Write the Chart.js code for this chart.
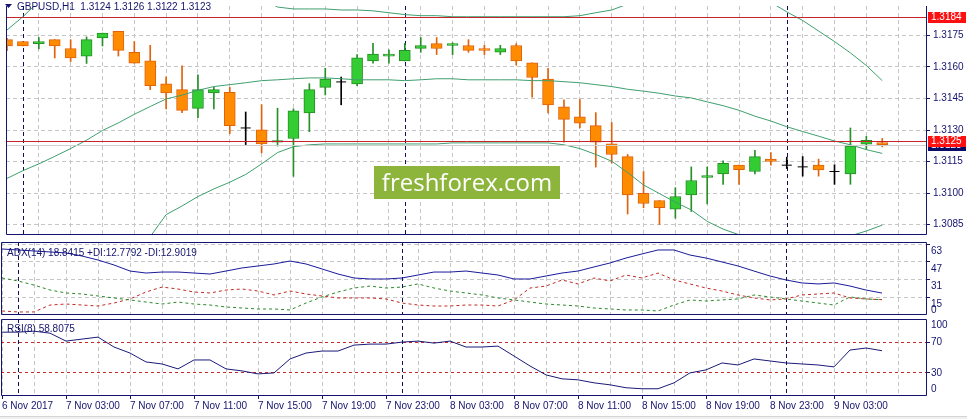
<!DOCTYPE html>
<html>
<head>
<meta charset="utf-8">
<script src="https://cdn.jsdelivr.net/npm/chart.js@4.4.0/dist/chart.umd.min.js"></script>
<style>
  html, body { margin: 0; padding: 0; background: #fff; }
  body { width: 967px; height: 419px; position: relative; overflow: hidden; }
  canvas { position: absolute; left: 0; }
  #foot { position: absolute; left: 0; top: 416px; width: 967px; height: 3px; background: #f0f0f0; border-top: 1px solid #d4d4d4; }
</style>
</head>
<body>
<canvas id="mainChart" width="967" height="241" style="top:0"></canvas>
<canvas id="adxChart" width="967" height="77" style="top:240px"></canvas>
<canvas id="rsiChart" width="967" height="102" style="top:317px"></canvas>
<div id="foot"></div>
<script>
// GBPUSD H1 bars, 6 Nov 23:00 .. 9 Nov 06:00
const open = [1.31730,1.31721,1.31711,1.31730,1.31688,1.31652,1.31738,1.31770,1.31670,1.31629,
  1.31520,1.31492,1.31403,1.31477,1.31480,1.31310,1.31301,1.31242,1.31260,1.31381,
  1.31503,1.31529,1.31520,1.31629,1.31652,1.31629,1.31688,1.31711,1.31702,1.31702,
  1.31688,1.31670,1.31702,1.31620,1.31543,1.31411,1.31363,1.31321,1.31234,1.31174,
  1.30999,1.30965,1.30924,1.30992,1.31075,1.31092,1.31133,1.31103,1.31162,1.31133,
  1.31125,1.31133,1.31103,1.31092,1.31233,1.31240];
const high = [1.31736,1.31721,1.31740,1.31730,1.31730,1.31743,1.31761,1.31770,1.31721,1.31703,
  1.31553,1.31606,1.31563,1.31503,1.31503,1.31386,1.31421,1.31404,1.31401,1.31521,
  1.31594,1.31552,1.31659,1.31712,1.31682,1.31712,1.31740,1.31740,1.31715,1.31730,
  1.31703,1.31703,1.31711,1.31620,1.31594,1.31444,1.31445,1.31383,1.31336,1.31184,
  1.31103,1.30965,1.31026,1.31125,1.31125,1.31154,1.31133,1.31204,1.31193,1.31171,
  1.31174,1.31162,1.31135,1.31310,1.31270,1.31260];
const low = [1.31677,1.31700,1.31686,1.31643,1.31626,1.31617,1.31700,1.31652,1.31618,1.31492,
  1.31400,1.31383,1.31359,1.31400,1.31283,1.31231,1.31192,1.31224,1.31080,1.31292,
  1.31467,1.31420,1.31511,1.31618,1.31618,1.31629,1.31670,1.31659,1.31659,1.31670,
  1.31659,1.31659,1.31609,1.31457,1.31381,1.31242,1.31310,1.31124,1.31143,1.30901,
  1.30931,1.30851,1.30881,1.30913,1.30949,1.31042,1.31042,1.31092,1.31133,1.31117,
  1.31081,1.31081,1.31042,1.31042,1.31207,1.31220];
const close = [1.31700,1.31700,1.31721,1.31700,1.31643,1.31730,1.31761,1.31679,1.31618,1.31511,
  1.31477,1.31394,1.31492,1.31492,1.31321,1.31310,1.31234,1.31250,1.31391,1.31492,
  1.31543,1.31529,1.31643,1.31661,1.31661,1.31679,1.31702,1.31688,1.31711,1.31679,
  1.31679,1.31688,1.31629,1.31550,1.31420,1.31351,1.31333,1.31242,1.31184,1.30992,
  1.30951,1.30931,1.30984,1.31060,1.31084,1.31142,1.31112,1.31174,1.31151,1.31133,
  1.31125,1.31110,1.31103,1.31224,1.31251,1.31230];

// Bollinger bands
const bandUpper = [1.31776,1.31839,1.31912,1.31930,1.31949,1.31976,1.32021,1.32049,1.32076,1.32031,
  1.31999,1.31994,1.31994,1.31994,1.31980,1.31962,1.31930,1.31885,1.31876,1.31876,
  1.31876,1.31871,1.31871,1.31867,1.31858,1.31849,1.31844,1.31844,1.31839,1.31839,
  1.31839,1.31839,1.31839,1.31839,1.31839,1.31839,1.31844,1.31858,1.31871,1.31899,
  1.31940,1.31958,1.31971,1.31985,1.31994,1.31994,1.31985,1.31958,1.31908,1.31862,
  1.31821,1.31771,1.31721,1.31667,1.31607,1.31535];
const bandMiddle = [1.31070,1.31107,1.31139,1.31175,1.31212,1.31252,1.31298,1.31334,1.31375,1.31412,
  1.31448,1.31466,1.31489,1.31507,1.31516,1.31525,1.31535,1.31539,1.31544,1.31548,
  1.31548,1.31544,1.31539,1.31539,1.31539,1.31535,1.31539,1.31544,1.31544,1.31539,
  1.31539,1.31539,1.31539,1.31535,1.31535,1.31530,1.31525,1.31516,1.31507,1.31494,
  1.31485,1.31475,1.31462,1.31453,1.31434,1.31416,1.31394,1.31366,1.31343,1.31316,
  1.31293,1.31271,1.31248,1.31230,1.31207,1.31189];
const bandLower = [1.30365,1.30374,1.30383,1.30411,1.30447,1.30502,1.30556,1.30611,1.30666,1.30793,
  1.30898,1.30939,1.30984,1.31020,1.31052,1.31089,1.31139,1.31193,1.31221,1.31230,
  1.31234,1.31234,1.31234,1.31234,1.31234,1.31234,1.31234,1.31234,1.31239,1.31239,
  1.31239,1.31239,1.31239,1.31239,1.31239,1.31230,1.31212,1.31184,1.31152,1.31098,
  1.31039,1.30998,1.30957,1.30920,1.30866,1.30829,1.30802,1.30784,1.30775,1.30770,
  1.30770,1.30775,1.30784,1.30797,1.30820,1.30848];

// ADX(14)
const adx = [58.8,57.9,57.0,56.1,55.2,52.4,48.8,44.3,38.8,37.0,
  37.9,37.9,37.0,36.1,38.8,41.6,43.4,45.2,47.9,45.2,
  40.7,36.1,32.5,31.6,31.6,32.5,35.2,37.9,37.9,38.8,
  37.0,35.2,31.6,31.6,34.3,37.0,38.8,42.5,46.1,50.6,
  54.3,57.9,57.9,53.3,50.6,47.0,43.4,38.8,34.3,30.7,
  28.0,27.1,28.0,25.2,21.6,18.84];
const plusDI = [32.5,29.8,26.1,21.6,18.9,18.0,16.2,14.4,12.6,10.7,
  8.9,10.7,8.9,8.0,6.2,5.3,4.4,4.4,3.5,9.8,
  15.3,19.8,23.4,25.2,23.4,24.3,27.1,23.4,20.7,18.9,
  17.1,14.4,12.6,10.7,8.9,8.0,7.1,5.3,4.4,3.5,
  3.5,2.6,8.0,12.6,11.6,12.6,13.5,17.1,15.3,13.5,
  11.6,9.8,8.0,15.3,13.5,12.78];
const minusDI = [2.6,1.7,1.7,8.0,8.9,8.0,7.1,9.8,13.5,19.8,
  24.3,22.5,19.8,18.9,21.6,22.5,20.7,17.1,20.7,18.0,
  16.2,14.4,14.4,14.4,13.5,9.8,8.0,7.1,7.1,8.0,
  8.0,7.1,12.6,23.4,25.2,30.7,27.1,32.5,29.8,35.2,
  32.5,37.0,30.7,27.1,23.4,20.7,17.1,14.4,12.6,13.5,
  17.1,18.0,18.9,14.4,13.5,12.90];

// RSI(8)
const rsi = [82.9,82.9,84.2,81.6,71.3,73.9,76.5,63.6,55.8,44.2,
  41.6,35.2,46.8,46.8,35.2,32.6,28.7,30.0,48.1,55.8,
  58.4,58.4,66.1,67.4,67.4,70.0,71.3,68.7,71.3,63.6,
  63.6,64.8,51.9,39.0,27.4,22.3,21.0,17.1,14.5,10.7,
  9.4,9.4,17.1,30.0,33.9,42.9,40.3,48.1,45.5,42.9,
  41.6,40.3,37.8,59.7,62.3,58.81];

// axes
const timeTickIdx = [0,4,8,12,16,20,24,28,32,36,40,44,48,52];
const timeTickLabels = ['6 Nov 2017','7 Nov 03:00','7 Nov 07:00','7 Nov 11:00','7 Nov 15:00','7 Nov 19:00',
  '7 Nov 23:00','8 Nov 03:00','8 Nov 07:00','8 Nov 11:00','8 Nov 15:00','8 Nov 19:00','8 Nov 23:00','9 Nov 03:00'];
const gridIdx = [0,2,4,6,8,10,12,14,16,18,20,22,24,26,28,30,32,34,36,38,40,42,44,46,48,50,52,54,56];
const daySeparators = [1, 25, 49];
const priceTicks = [1.3085, 1.3100, 1.3115, 1.3130, 1.3145, 1.3160, 1.3175];
const adxTicks = [15, 31, 47, 63];
const rsiLevels = [30, 70];
const resistanceLevel = 1.3184;
const markedLevel = 1.3125;
const bidLevel = 1.3123;

const FONT = "'Liberation Sans', Arial, sans-serif";
const NAVY = '#14146e';
const GRID = '#c6c6c6';
const X_MIN = -0.0625, X_MAX = 57.8125;
const isLabelled = v => timeTickIdx.includes(v);

function xScale(showLabels) {
  return {
    type: 'linear', min: X_MIN, max: X_MAX, offset: false,
    afterBuildTicks: s => { s.ticks = gridIdx.map(v => ({ value: v })); },
    afterFit: s => { s.height = showLabels ? 23 : 0; s.paddingLeft = 0; s.paddingRight = 0; },
    ticks: {
      display: showLabels, autoSkip: false, maxRotation: 0, minRotation: 0,
      align: 'start', padding: 1, color: NAVY, font: { family: FONT, size: 10 },
      callback: v => { const k = timeTickIdx.indexOf(v); return k >= 0 ? timeTickLabels[k] : ''; }
    },
    grid: {
      offset: false, color: GRID, drawTicks: showLabels, tickLength: 3,
      tickColor: c => (c.tick && isLabelled(c.tick.value)) ? NAVY : 'rgba(0,0,0,0)'
    },
    border: { display: false, dash: [4, 3] }
  };
}

function yScale(cfg) {
  return {
    position: 'right', min: cfg.min, max: cfg.max,
    afterBuildTicks: s => { s.ticks = cfg.ticks.map(v => ({ value: v })); },
    afterFit: s => { s.width = 40; s.paddingTop = 0; s.paddingBottom = 0; },
    ticks: {
      autoSkip: false, padding: cfg.padding, labelOffset: cfg.labelOffset || 0,
      color: NAVY, font: { family: FONT, size: 10 }, callback: cfg.format
    },
    grid: { color: cfg.gridColor, tickLength: 3, tickColor: NAVY },
    border: { display: false, dash: cfg.dash }
  };
}

function panelPlugin(name, legend, legendY, extraLabels, noTop) {
  return {
    id: 'panel_' + name,
    beforeDatasetsDraw(chart) {
      const { ctx, chartArea: a, scales: { x } } = chart;
      ctx.save();
      ctx.strokeStyle = '#10105a';
      ctx.lineWidth = 1;
      ctx.setLineDash([4, 3]);
      daySeparators.forEach(v => {
        const px = Math.round(x.getPixelForValue(v)) + 0.5;
        ctx.beginPath();
        ctx.moveTo(px, a.top);
        ctx.lineTo(px, a.bottom);
        ctx.stroke();
      });
      ctx.restore();
    },
    afterDraw(chart) {
      const { ctx, chartArea: a } = chart;
      ctx.save();
      ctx.strokeStyle = NAVY;
      ctx.lineWidth = 1;
      const l = a.left + 0.5, r = a.right - 0.5, t = a.top + 0.5, b = a.bottom - 0.5;
      ctx.beginPath();
      ctx.moveTo(l, noTop ? a.top : t);
      ctx.lineTo(l, b);
      ctx.lineTo(r, b);
      ctx.lineTo(r, noTop ? a.top : t);
      if (!noTop) ctx.lineTo(l, t);
      ctx.stroke();
      ctx.font = '10px ' + FONT;
      ctx.fillStyle = NAVY;
      ctx.textBaseline = 'alphabetic';
      ctx.fillText(legend.text, legend.x, legendY);
      ctx.textBaseline = 'middle';
      (extraLabels || []).forEach(lb => ctx.fillText(lb.text, 931, lb.y));
      ctx.restore();
    }
  };
}

const baseOptions = {
  responsive: false, animation: false, devicePixelRatio: 1,
  plugins: { legend: { display: false }, tooltip: { enabled: false } },
  events: []
};

// ---------- main price window ----------
const bull = '#33cc33', bullEdge = '#259025';
const bear = '#ff8c00', bearEdge = '#e0620a';
const bars = open.map((o, i) => ({ i, o, h: high[i], l: low[i], c: close[i] }));
const doji = bars.filter(b => b.o === b.c);
const bodies = bars.filter(b => b.o !== b.c);

const mainPlugin = {
  id: 'mainOverlay',
  afterDatasetsDraw(chart) {
    const { ctx, chartArea: a, scales: { y } } = chart;
    ctx.save();
    const hline = (v, color) => {
      const py = Math.round(y.getPixelForValue(v)) + 0.5;
      ctx.strokeStyle = color;
      ctx.lineWidth = 1;
      ctx.beginPath();
      ctx.moveTo(a.left, py);
      ctx.lineTo(a.right, py);
      ctx.stroke();
    };
    hline(bidLevel, '#d0d0d0');
    hline(markedLevel, '#c8222a');
    hline(resistanceLevel, '#c8222a');

    // watermark
    ctx.fillStyle = '#8db53c';
    ctx.fillRect(374, 166, 186, 33);
    ctx.fillStyle = '#ffffff';
    ctx.font = "24px 'Open Sans', 'Noto Sans', sans-serif";
    ctx.textAlign = 'center';
    ctx.textBaseline = 'alphabetic';
    ctx.fillText('freshforex.com', 467, 191);
    ctx.restore();
  },
  afterDraw(chart) {
    const { ctx, scales: { y } } = chart;
    ctx.save();
    ctx.font = '10px ' + FONT;
    ctx.textBaseline = 'middle';
    const box = (v, bg) => {
      const py = y.getPixelForValue(v);
      ctx.fillStyle = bg;
      ctx.fillRect(928, Math.round(py) - 5, 38, 11);
      ctx.fillStyle = '#ffffff';
      ctx.fillText(v.toFixed(4), 931, Math.round(py) + 0.5);
    };
    box(bidLevel, '#0c0c64');
    box(markedLevel, '#ff1010');
    box(resistanceLevel, '#ff1010');
    // symbol legend marker
    ctx.fillStyle = NAVY;
    ctx.beginPath();
    ctx.moveTo(5, 4); ctx.lineTo(12, 4); ctx.lineTo(8.5, 8);
    ctx.closePath();
    ctx.fill();
    ctx.restore();
  }
};

new Chart(document.getElementById('mainChart'), {
  type: 'bar',
  data: {
    datasets: [
      {
        type: 'line', label: 'BB upper', data: bandUpper.map((v, i) => ({ x: i, y: v })),
        borderColor: '#3f9f6d', borderWidth: 1, pointRadius: 0, tension: 0, order: -1
      },
      {
        type: 'line', label: 'BB middle', data: bandMiddle.map((v, i) => ({ x: i, y: v })),
        borderColor: '#3f9f6d', borderWidth: 1, pointRadius: 0, tension: 0, order: -1
      },
      {
        type: 'line', label: 'BB lower', data: bandLower.map((v, i) => ({ x: i, y: v })),
        borderColor: '#3f9f6d', borderWidth: 1, pointRadius: 0, tension: 0, order: -1
      },
      {
        type: 'scatter', label: 'doji', data: doji.map(b => ({ x: b.i, y: b.o })),
        pointStyle: 'line', pointRadius: 5, borderColor: '#000000', borderWidth: 1, order: 0
      },
      {
        label: 'body', data: bodies.map(b => ({ x: b.i, y: [b.o, b.c] })),
        backgroundColor: bodies.map(b => b.c > b.o ? bull : bear),
        borderColor: bodies.map(b => b.c > b.o ? bullEdge : bearEdge),
        borderWidth: 1, borderSkipped: false, barThickness: 11, grouped: false, order: 1
      },
      {
        label: 'wick', data: bars.map(b => ({ x: b.i, y: [b.l, b.h] })),
        backgroundColor: bars.map(b => b.o === b.c ? '#000000' : (b.c > b.o ? bullEdge : bearEdge)),
        borderWidth: 0, barThickness: 1, grouped: false, order: 2
      }
    ]
  },
  options: Object.assign({}, baseOptions, {
    layout: { padding: { top: 1, left: 1, right: 0, bottom: 1 } },
    scales: {
      x: xScale(false),
      y: yScale({ min: 1.30801, max: 1.31890, ticks: priceTicks, padding: 3,
        format: v => v.toFixed(4), gridColor: GRID, dash: [4, 3] })
    }
  }),
  plugins: [panelPlugin('main', { text: 'GBPUSD,H1  1.3124 1.3126 1.3122 1.3123', x: 17 }, 9.5, [], true), mainPlugin]
});

// ---------- ADX window ----------
new Chart(document.getElementById('adxChart'), {
  type: 'line',
  data: {
    datasets: [
      { label: 'ADX', data: adx.map((v, i) => ({ x: i, y: v })), borderColor: '#1a1a9a', borderWidth: 1, pointRadius: 0 },
      { label: '+DI', data: plusDI.map((v, i) => ({ x: i, y: v })), borderColor: '#2a882a', borderWidth: 1, borderDash: [3, 3], pointRadius: 0 },
      { label: '-DI', data: minusDI.map((v, i) => ({ x: i, y: v })), borderColor: '#c02a22', borderWidth: 1, borderDash: [3, 3], pointRadius: 0 }
    ]
  },
  options: Object.assign({}, baseOptions, {
    layout: { padding: { top: 2, left: 1, right: 0, bottom: 2 } },
    scales: {
      x: xScale(false),
      y: yScale({ min: -1.05, max: 65.13, ticks: adxTicks, padding: 1, labelOffset: 7,
        format: v => String(v), gridColor: GRID, dash: [4, 3] })
    }
  }),
  plugins: [panelPlugin('adx', { text: 'ADX(14) 18.8415 +DI:12.7792 -DI:12.9019', x: 7 }, 255.5 - 240, [{ text: '0', y: 310 - 240 }])]
});

// ---------- RSI window ----------
new Chart(document.getElementById('rsiChart'), {
  type: 'line',
  data: {
    datasets: [
      { label: 'RSI', data: rsi.map((v, i) => ({ x: i, y: v })), borderColor: '#1a1a78', borderWidth: 1, pointRadius: 0 }
    ]
  },
  options: Object.assign({}, baseOptions, {
    layout: { padding: { top: 2, left: 1, right: 0, bottom: 0 } },
    scales: {
      x: xScale(true),
      y: yScale({ min: 0, max: 100, ticks: rsiLevels, padding: 1,
        format: v => String(v), gridColor: '#c42a2a', dash: [3, 3] })
    }
  }),
  plugins: [panelPlugin('rsi', { text: 'RSI(8) 58.8075', x: 7 }, 331.5 - 317, [{ text: '100', y: 325 - 317 }, { text: '0', y: 389 - 317 }])]
});
</script>
</body>
</html>
